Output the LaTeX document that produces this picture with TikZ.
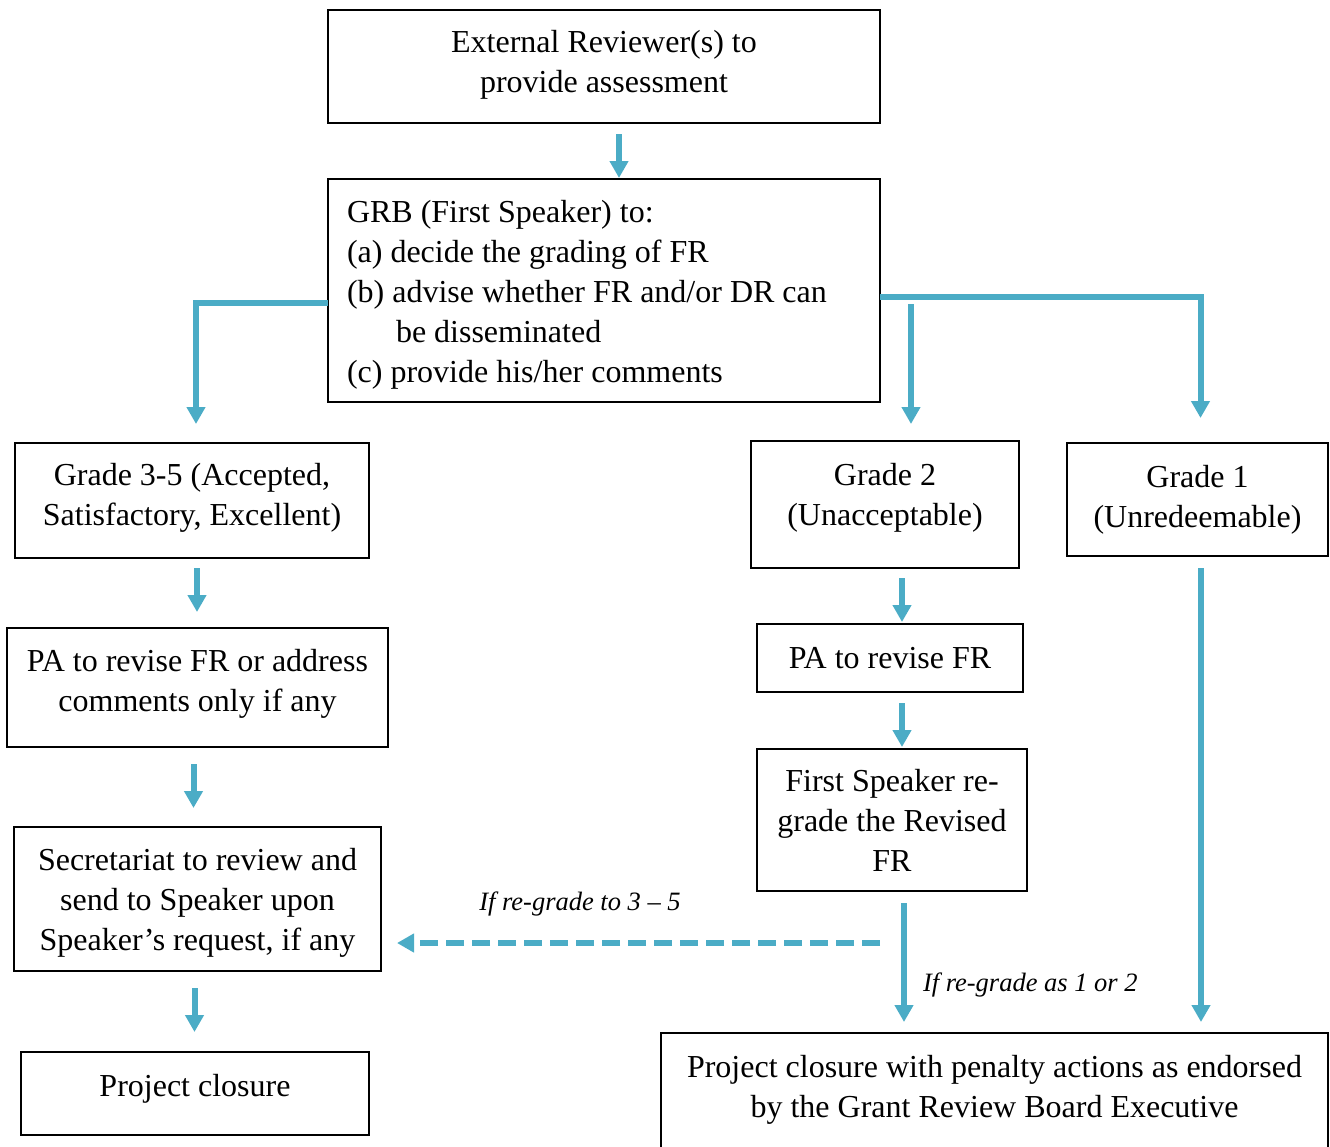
\documentclass[tikz,border=0pt]{standalone}
\usepackage{fontspec}
\setmainfont{Liberation Serif}
\usepackage{tikz}
\usetikzlibrary{arrows.meta}
\definecolor{flowblue}{HTML}{4BACC6}

\begin{document}
\begin{tikzpicture}[x=1pt,y=-1pt,inner sep=0pt,outer sep=0pt,
    box/.style={draw,line width=1.2pt,align=center,font=\fontsize{32}{40}\selectfont},
    flow/.style={draw=flowblue,line width=6pt,-{Triangle[width=18pt,length=17pt]}},
    dflow/.style={flow,dash pattern=on 18pt off 8pt},
    cond/.style={font=\fontsize{26.5}{30}\selectfont\itshape}]
    %
  \useasboundingbox (0,0) rectangle (1330,1146);
  %
  \node[box,minimum width=552pt,minimum height=113pt,text depth=11pt] (ext) at (604,66.5)
    {External Reviewer(s) to\\provide assessment};
  \node[box,align=flush left,text width=514pt,inner xsep=19pt,minimum height=223pt,text height=31pt] (grb) at (604,290.5)
    {GRB (First Speaker) to:\\
     (a) decide the grading of FR\\
     (b) advise whether FR and/or DR can\\
     \hspace*{49pt}be disseminated\\
     (c) provide his/her comments};
  %
  \node[box,minimum width=354pt,minimum height=115pt,text depth=13pt] (g35) at (192,500.5)
    {Grade 3-5 (Accepted,\\Satisfactory, Excellent)};
  \node[box,minimum width=268pt,minimum height=127pt,text depth=21pt] (g2) at (885,504.5)
    {Grade 2\\(Unacceptable)};
  \node[box,minimum width=261pt,minimum height=113pt] (g1) at (1197.5,499.5)
    {Grade 1\\(Unredeemable)};
  %
  \node[box,minimum width=381pt,minimum height=119pt,text depth=15pt] (pa1) at (197.5,687.5)
    {PA to revise FR or address\\comments only if any};
  \node[box,minimum width=367pt,minimum height=144pt,text depth=0pt] (sec) at (197.5,899)
    {Secretariat to review and\\send to Speaker upon\\Speaker's request, if any};
  \node[box,minimum width=348pt,minimum height=83pt,text depth=17pt] (pc) at (195,1093.5)
    {Project closure};
  %
  \node[box,minimum width=266pt,minimum height=68pt] (pa2) at (890,658)
    {PA to revise FR};
  \node[box,minimum width=270pt,minimum height=142pt] (fs) at (892,820)
    {First Speaker re-\\grade the Revised\\FR};
  \node[box,anchor=north,minimum width=667pt,inner ysep=22pt,text depth=60pt] (pen) at (994.5,1033)
    {Project closure with penalty actions as endorsed\\by the Grant Review Board Executive};
  %
  \draw[flow,shorten <=11pt,shorten >=1pt] ([xshift=15pt]ext.south) -- ([xshift=15pt]ext.south |- grb.north);
  \draw[flow,shorten >=19pt] ([yshift=-12.5pt]grb.west) -| ([xshift=4pt]g35.north);
  \draw[flow,shorten >=25pt] ([yshift=-6.5pt]grb.east) -| ([xshift=3pt]g1.north);
  \draw[flow,shorten >=17pt] ([xshift=26pt,yshift=137pt]g2.north) -- ([xshift=26pt]g2.north);
  %
  \draw[flow,shorten <=10pt,shorten >=16pt] ([xshift=5pt]g35.south) -- ([xshift=5pt]g35.south |- pa1.north);
  \draw[flow,shorten <=17pt,shorten >=19pt] ([xshift=-4pt]pa1.south) -- ([xshift=-4pt]pa1.south |- sec.north);
  \draw[flow,shorten <=17pt,shorten >=20pt] ([xshift=-3pt]sec.south) -- ([xshift=-3pt]sec.south |- pc.north);
  %
  \draw[flow,shorten <=10pt,shorten >=2pt] ([xshift=17pt]g2.south) -- ([xshift=17pt]g2.south |- pa2.north);
  \draw[flow,shorten <=11pt,shorten >=2pt] ([xshift=12pt]pa2.south) -- ([xshift=12pt]pa2.south |- fs.north);
  \draw[flow,shorten <=12pt,shorten >=11pt] ([xshift=12pt]fs.south) -- ([xshift=12pt]fs.south |- pen.north);
  \draw[flow,shorten <=12pt,shorten >=11pt] ([xshift=3.5pt]g1.south) -- ([xshift=3.5pt]g1.south |- pen.north);
  %
  \coordinate (back) at (880,943);
  \draw[dflow,shorten >=16pt] (back) -- (back -| sec.east);
  \node[cond] (up) at (580,904) {If re-grade to 3 -- 5};
  \node[cond,anchor=west] (down) at (923,985) {If re-grade as 1 or 2};

\end{tikzpicture}
\end{document}
